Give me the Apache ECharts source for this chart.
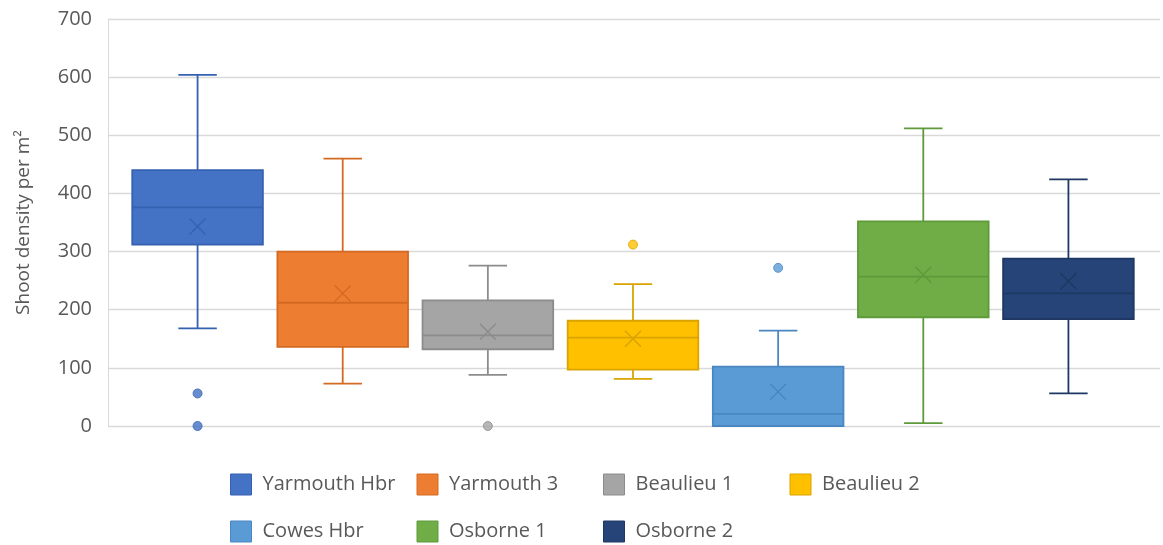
<!DOCTYPE html>
<html>
<head>
<meta charset="utf-8">
<script src="https://cdn.jsdelivr.net/npm/echarts@6/dist/echarts.min.js"></script>
<style>
html,body{margin:0;padding:0;background:#fff;}
#chart{width:1163px;height:545px;}
</style>
</head>
<body>
<div id="chart"></div>
<script>
// ---- data ----
const categories = ['Yarmouth Hbr', 'Yarmouth 3', 'Beaulieu 1', 'Beaulieu 2', 'Cowes Hbr', 'Osborne 1', 'Osborne 2'];
const minValues    = [168, 73, 88, 81, 0, 5, 56];
const q1Values     = [312, 136, 132, 97, 0, 187, 184];
const medianValues = [376, 212, 156, 152, 21, 257, 228];
const q3Values     = [440, 300, 216, 181, 102, 352, 288];
const maxValues    = [604, 460, 276, 244, 164, 512, 424];
const meanValues   = [343, 228, 162, 150, 59, 260, 249];
const outlierValues = [[56, 0], [], [0], [312], [272], [], []];
const yMin = 0, yMax = 700, yStep = 100;
const yAxisTitle = 'Shoot density per m\u00B2';

// ---- styles ----
const fills   = ['#4472C4', '#ED7D31', '#A5A5A5', '#FFC000', '#5B9BD5', '#70AD47', '#264478'];
const strokes = ['#3461B0', '#D46A22', '#8C8C8C', '#D9A300', '#4A87C0', '#5E9A3A', '#1E3863'];
const textColor = '#595959';
const gridColor = '#D9D9D9';
const fontFamily = '"Open Sans", "Noto Sans", sans-serif';

function renderBox(params, api) {
  const i = api.value(0);
  const slot = api.size([1, 0])[0];
  const bw = slot * 0.9;
  const cw = slot * 0.265;
  const x = api.coord([i, 0])[0];
  const y = (k) => api.coord([i, api.value(k)])[1];
  const yLo = y(1), yQ1 = y(2), yMed = y(3), yQ3 = y(4), yHi = y(5), yMean = y(6);
  const stroke = strokes[i], fill = fills[i];
  const ls = { stroke: stroke, lineWidth: 1.8 };
  const m = 8;
  return {
    type: 'group',
    children: [
      { type: 'line', shape: { x1: x, y1: yQ3, x2: x, y2: yHi }, style: ls },
      { type: 'line', shape: { x1: x - cw / 2, y1: yHi, x2: x + cw / 2, y2: yHi }, style: ls },
      { type: 'line', shape: { x1: x, y1: yQ1, x2: x, y2: yLo }, style: ls },
      { type: 'line', shape: { x1: x - cw / 2, y1: yLo, x2: x + cw / 2, y2: yLo }, style: ls },
      { type: 'rect', shape: { x: x - bw / 2, y: yQ3, width: bw, height: yQ1 - yQ3 },
        style: { fill: fill, stroke: stroke, lineWidth: 1.8 } },
      { type: 'line', shape: { x1: x - bw / 2, y1: yMed, x2: x + bw / 2, y2: yMed }, style: ls },
      { type: 'line', shape: { x1: x - m, y1: yMean - m, x2: x + m, y2: yMean + m }, style: { stroke: stroke, lineWidth: 1.4 } },
      { type: 'line', shape: { x1: x - m, y1: yMean + m, x2: x + m, y2: yMean - m }, style: { stroke: stroke, lineWidth: 1.4 } }
    ]
  };
}

const series = categories.map((name, i) => ({
  name: name,
  type: 'custom',
  xAxisIndex: 1,
  yAxisIndex: 1,
  itemStyle: { color: fills[i], borderColor: strokes[i], borderWidth: 1 },
  renderItem: renderBox,
  encode: { x: 0, y: [1, 2, 3, 4, 5, 6] },
  clip: false,
  data: [[i, minValues[i], q1Values[i], medianValues[i], q3Values[i], maxValues[i], meanValues[i]]]
}));

const outlierData = [];
outlierValues.forEach((vals, i) => {
  vals.forEach(v => outlierData.push({
    value: [i, v],
    itemStyle: { color: fills[i], borderColor: strokes[i], borderWidth: 1 }
  }));
});
series.push({
  name: 'outliers',
  type: 'scatter',
  xAxisIndex: 1,
  yAxisIndex: 1,
  symbol: 'circle',
  symbolSize: 9,
  clip: false,
  z: 5,
  data: outlierData
});

const chart = echarts.init(document.getElementById('chart'), null, { renderer: 'canvas' });
chart.setOption({
  animation: false,
  backgroundColor: '#ffffff',
  textStyle: { fontFamily: fontFamily },
  grid: [
    { left: 108, right: 3, top: 19, bottom: 119 },
    { left: 125, right: 22, top: 19, bottom: 119 }
  ],
  xAxis: [
    { gridIndex: 0, type: 'category', data: [''], show: false },
    { gridIndex: 1, type: 'category', data: categories, show: false, boundaryGap: true }
  ],
  yAxis: [
    {
      gridIndex: 0, type: 'value', min: yMin, max: yMax, interval: yStep,
      name: yAxisTitle, nameLocation: 'middle', nameGap: 75,
      nameTextStyle: { color: textColor, fontSize: 19, fontFamily: fontFamily },
      axisLine: { show: true, lineStyle: { color: gridColor, width: 1 } },
      axisTick: { show: false },
      axisLabel: { color: textColor, fontSize: 20, margin: 16, fontFamily: fontFamily },
      splitLine: { show: true, lineStyle: { color: gridColor, width: 1.3 } }
    },
    { gridIndex: 1, type: 'value', min: yMin, max: yMax, interval: yStep, show: false, splitLine: { show: false } }
  ],
  legend: {
    left: 230,
    top: 466,
    padding: 0,
    width: 750,
    orient: 'horizontal',
    icon: 'rect',
    itemWidth: 21,
    itemHeight: 21,
    itemGap: 10,
    selectedMode: false,
    textStyle: { color: textColor, fontSize: 20, fontFamily: fontFamily, width: 144, lineHeight: 37, padding: [0, 0, 0, 6] },
    data: categories.map((name, i) => ({
      name: name,
      itemStyle: { color: fills[i], borderColor: strokes[i], borderWidth: 1 }
    }))
  },
  series: series
});
</script>
</body>
</html>
